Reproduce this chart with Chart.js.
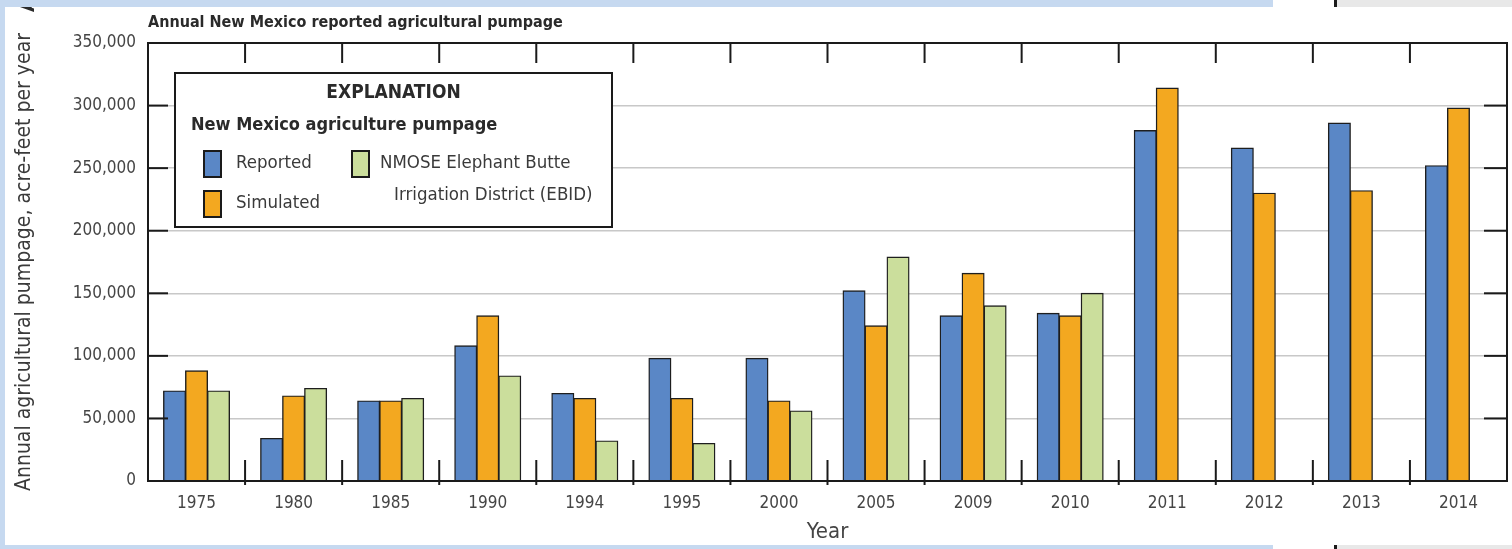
<!DOCTYPE html>
<html>
<head>
<meta charset="utf-8">
<script src="https://cdn.jsdelivr.net/npm/chart.js@4.4.1/dist/chart.umd.min.js"></script>
<style>
  html, body { margin: 0; padding: 0; background: #fff; }
  #wrap { position: relative; width: 1512px; height: 549px; overflow: hidden; }
  .band { position: absolute; }
</style>
</head>
<body>
<div id="wrap">
  <canvas id="pumpageChart" width="1512" height="549"></canvas>
  <!-- screenshot frame -->
  <div class="band" style="left:0;top:0;width:1273px;height:7px;background:#c6d9f0"></div>
  <div class="band" style="left:0;top:0;width:5px;height:549px;background:#c6d9f0"></div>
  <div class="band" style="left:0;top:545px;width:1273px;height:4px;background:#c6d9f0"></div>
  <div class="band" style="left:1334px;top:0;width:3px;height:7px;background:#1a1a1a"></div>
  <div class="band" style="left:1337px;top:0;width:175px;height:7px;background:#e8e8e8"></div>
  <div class="band" style="left:1334px;top:545px;width:3px;height:4px;background:#1a1a1a"></div>
  <div class="band" style="left:1337px;top:545px;width:175px;height:4px;background:#e8e8e8"></div>
</div>
<script>
// === Data (acre-feet per year) ===
const years = ["1975", "1980", "1985", "1990", "1994", "1995", "2000", "2005", "2009", "2010", "2011", "2012", "2013", "2014"];
const reported  = [72000, 34000, 64000, 108000, 70000, 98000, 98000, 152000, 132000, 134000, 280000, 266000, 286000, 252000];
const simulated = [88000, 68000, 64000, 132000, 66000, 66000, 64000, 124000, 166000, 132000, 314000, 230000, 232000, 298000];
const ebid      = [72000, 74000, 66000, 84000, 32000, 30000, 56000, 179000, 140000, 150000, null, null, null, null];
const yTicks = [0, 50000, 100000, 150000, 200000, 250000, 300000, 350000];

const FONT = "'Liberation Sans Narrow', 'DejaVu Sans Condensed', sans-serif";
Chart.defaults.font.family = FONT;

// title at top left of the plot (+ cut-off panel letter)
const titlePlugin = {
  id: "topTitle",
  afterDraw(chart) {
    const { ctx, chartArea: a } = chart;
    ctx.save();
    ctx.fillStyle = "#2a2a2a";
    ctx.font = "bold 16px " + FONT;
    ctx.textAlign = "left";
    ctx.textBaseline = "middle";
    ctx.fillText("Annual New Mexico reported agricultural pumpage", a.left, a.top - 20);
    ctx.translate(29, 5);
    ctx.rotate(-Math.PI / 2);
    ctx.textAlign = "center";
    ctx.font = "bold 20px " + FONT;
    ctx.fillText("A", 0, 0);
    ctx.restore();
  }
};

// box, inside ticks and category separators
const framePlugin = {
  id: "frame",
  afterDatasetsDraw(chart) {
    const { ctx, chartArea: a, scales: { x, y } } = chart;
    const line = (x1, y1, x2, y2) => { ctx.beginPath(); ctx.moveTo(x1, y1); ctx.lineTo(x2, y2); ctx.stroke(); };
    ctx.save();
    ctx.strokeStyle = "#1a1a1a";
    ctx.lineWidth = 2;
    y.ticks.forEach((t) => {
      if (t.value <= y.min || t.value >= y.max) return;
      const py = y.getPixelForValue(t.value);
      line(a.left, py, a.left + 20, py);
      line(a.right - 23, py, a.right, py);
    });
    for (let i = 1; i < years.length; i++) {
      const px = (x.getPixelForValue(i - 1) + x.getPixelForValue(i)) / 2;
      line(px, a.bottom - 21, px, a.bottom + 4);
      line(px, a.top, px, a.top + 20);
    }
    ctx.strokeRect(a.left, a.top, a.right - a.left, a.bottom - a.top);
    ctx.restore();
  }
};

// EXPLANATION box
const explanationPlugin = {
  id: "explanation",
  afterDraw(chart) {
    const { ctx, chartArea: a } = chart;
    const ds = chart.data.datasets;
    const bx = a.left + 27, by = a.top + 30, bw = 437, bh = 154;
    ctx.save();
    ctx.fillStyle = "#fff";
    ctx.fillRect(bx, by, bw, bh);
    ctx.strokeStyle = "#1a1a1a";
    ctx.lineWidth = 2;
    ctx.strokeRect(bx, by, bw, bh);

    ctx.textBaseline = "middle";
    ctx.fillStyle = "#2a2a2a";
    ctx.textAlign = "center";
    ctx.font = "bold 19px " + FONT;
    ctx.fillText("EXPLANATION", bx + bw / 2, by + 20);
    ctx.textAlign = "left";
    ctx.font = "bold 18px " + FONT;
    ctx.fillText("New Mexico agriculture pumpage", bx + 16, by + 52);

    const items = [
      { i: 0, sx: bx + 29, sy: by + 78, lines: [["Reported", bx + 61, by + 90]] },
      { i: 1, sx: bx + 29, sy: by + 118, lines: [["Simulated", bx + 61, by + 130]] },
      { i: 2, sx: bx + 177, sy: by + 78, lines: [["NMOSE Elephant Butte", bx + 205, by + 90], ["Irrigation District (EBID)", bx + 219, by + 122]] }
    ];
    ctx.font = "18.5px " + FONT;
    items.forEach((it) => {
      ctx.fillStyle = ds[it.i].backgroundColor;
      ctx.fillRect(it.sx, it.sy, 17, 26);
      ctx.strokeStyle = "#1a1a1a";
      ctx.lineWidth = 2;
      ctx.strokeRect(it.sx, it.sy, 17, 26);
      ctx.fillStyle = "#3a3a3a";
      it.lines.forEach(([t, tx, ty]) => ctx.fillText(t, tx, ty));
    });
    ctx.restore();
  }
};

const ctx = document.getElementById("pumpageChart").getContext("2d");
new Chart(ctx, {
  type: "bar",
  data: {
    labels: years,
    datasets: [
      { label: "Reported", data: reported, backgroundColor: "#5a87c6" },
      { label: "Simulated", data: simulated, backgroundColor: "#f3a820" },
      { label: "NMOSE Elephant Butte Irrigation District (EBID)", data: ebid, backgroundColor: "#cbde9c" }
    ]
  },
  options: {
    responsive: false,
    animation: false,
    devicePixelRatio: 1,
    layout: { padding: { top: 43, right: 5, left: 0, bottom: 0 } },
    datasets: {
      bar: {
        categoryPercentage: 0.68,
        barPercentage: 1.0,
        borderColor: "#1e1e1e",
        borderWidth: 1.4,
        inflateAmount: 0.5
      }
    },
    plugins: {
      legend: { display: false },
      tooltip: { enabled: false }
    },
    scales: {
      x: {
        grid: { display: false, drawTicks: false },
        border: { display: false },
        ticks: { color: "#454545", font: { size: 17 }, padding: 12, maxRotation: 0 },
        title: { display: true, text: "Year", color: "#454545", font: { size: 22 }, padding: { top: 0, bottom: 4 } },
        afterFit: (s) => { s.height = 68; }
      },
      y: {
        min: 0,
        max: 350000,
        afterBuildTicks: (s) => { s.ticks = yTicks.map((v) => ({ value: v })); },
        ticks: {
          color: "#454545",
          font: { size: 17 },
          padding: 12,
          callback: (v) => v.toLocaleString("en-US")
        },
        grid: { color: "#c8c8c8", lineWidth: 1.5, drawTicks: false },
        border: { display: false },
        title: {
          display: true,
          text: "Annual agricultural pumpage, acre-feet per year",
          color: "#3a3a3a",
          font: { size: 21 },
          padding: { top: 12, bottom: 0 }
        },
        afterFit: (s) => { s.width = 148; }
      }
    }
  },
  plugins: [framePlugin, explanationPlugin, titlePlugin]
});
</script>
</body>
</html>
